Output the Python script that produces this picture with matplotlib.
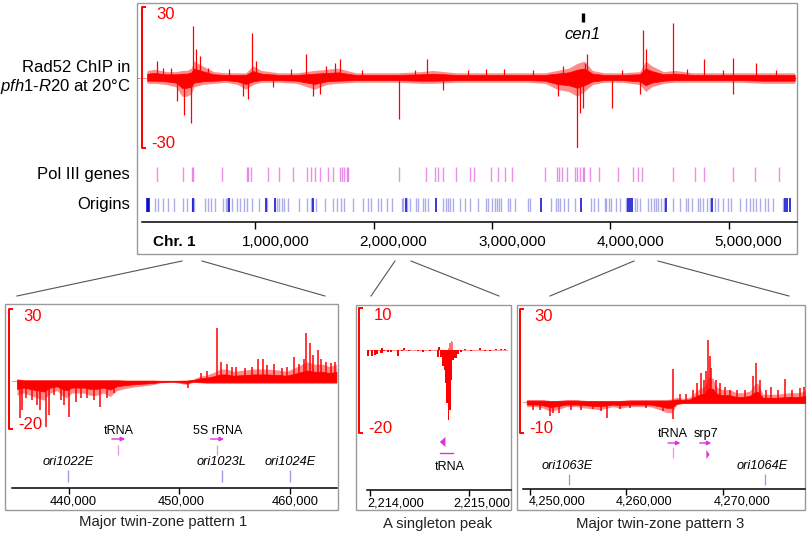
import matplotlib
matplotlib.use('Agg')
import matplotlib.pyplot as plt
from matplotlib.transforms import ScaledTranslation, blended_transform_factory
from matplotlib.patches import Rectangle, Polygon

plt.rcParams['font.family'] = ['Liberation Sans', 'DejaVu Sans']
plt.rcParams['mathtext.fontset'] = 'custom'
plt.rcParams['mathtext.rm'] = 'Liberation Sans'
plt.rcParams['mathtext.it'] = 'Liberation Sans:italic'

# ------------------------------------------------------------------ data
CHR_LEN_MB = 5.579
CHR_TICKS = [1, 2, 3, 4, 5]
CHR_TICK_LABELS = ['1,000,000', '2,000,000', '3,000,000', '4,000,000', '5,000,000']
CEN1_MB = 3.768

# whole chromosome Rad52 ChIP: envelope of the noisy band (Mb, upper, lower)
TOP_ENV_X = [0.085, 0.15, 0.25, 0.33, 0.38, 0.42, 0.46, 0.48, 0.55, 0.65, 0.75, 0.85,
             0.92, 0.98, 1.05, 1.2, 1.35, 1.50, 1.60, 1.70, 1.85, 2.0, 2.2, 2.4, 2.5,
             2.7, 2.9, 3.1, 3.3, 3.45, 3.55, 3.65, 3.72, 3.78, 3.85, 3.95, 4.1, 4.25,
             4.30, 4.35, 4.45, 4.55, 4.7, 4.9, 5.1, 5.3, 5.56]
TOP_ENV_HI = [3, 3.5, 2.5, 2.5, 3, 3, 4, 7, 5, 2.5, 2, 2, 2, 5, 3, 2, 2, 3, 3.5, 4, 2, 2,
              2, 2.5, 3, 2, 2, 2, 2, 2, 3, 4, 6, 7, 3, 2, 2, 2.5, 7, 5, 2.5, 3, 2, 2, 2,
              2, 2]
TOP_ENV_LO = [-2.5, -2.5, -3, -4, -8, -8, -7, -4, -3, -2.5, -2, -3, -5, -3, -2, -2, -2.5,
              -5, -3, -2.5, -2, -2, -2, -2.5, -2.5, -2, -2, -2, -2, -2.5, -5, -6, -8, -6,
              -3, -2, -2, -3, -6, -4, -2.5, -2, -2, -2, -2, -2.5, -2.5]
TOP_SPIKE_X = [0.169, 0.22, 0.29, 0.338, 0.397, 0.457, 0.474, 0.50, 0.532, 0.60, 0.78,
               0.895, 0.938, 0.971, 1.005, 1.15, 1.30, 1.427, 1.486, 1.545, 1.60, 1.672,
               1.715, 1.90, 2.215, 2.35, 2.450, 2.585, 2.80, 2.95, 3.100, 3.35, 3.556,
               3.60, 3.716, 3.742, 3.767, 3.784, 3.801, 4.012, 4.10, 4.248, 4.274, 4.299,
               4.535, 4.65, 4.797, 4.95, 5.042, 5.042, 5.236, 5.40]
TOP_SPIKE_V = [7, 4, 4, -10, -16, -19.5, 22, 12, 9, 4, 3.5, -8, -9, 19, 7, -4, 3.5, 10,
               -8, -7, 5, 6, 8, 3, -17.5, 3, 8, -5.5, 3, 3.5, 3.5, 3, -8, 5, -30, -15,
               -13, 6, 10, -13, 3, -7, 20, 12, 23, 3.5, 8, 3, 8.5, -7, 6, 3]

# Pol III genes and replication origins (Mb)
POL3_MB = [0.169, 0.389, 0.465, 0.473, 0.718, 0.929, 0.938, 0.963, 1.106, 1.199, 1.318,
           1.436, 1.470, 1.503, 1.546, 1.613, 1.655, 1.715, 1.731, 1.748, 1.774, 1.782,
           2.215, 2.441, 2.517, 2.542, 2.584, 2.694, 2.813, 2.846, 2.990, 3.049, 3.108,
           3.167, 3.446, 3.547, 3.564, 3.590, 3.632, 3.699, 3.716, 3.742, 3.767, 3.775,
           3.826, 3.902, 4.062, 4.189, 4.231, 4.265, 4.527, 4.721, 4.797, 5.042, 5.228,
           5.431]
ORI_DARK_MB = [0.085, 0.094, 0.102, 0.476, 0.780, 1.090, 1.166, 1.490, 2.270, 2.526,
               3.419, 3.757, 4.150, 4.165, 4.187, 4.475, 4.863, 5.474, 5.492, 5.516]
ORI_LIGHT_MB = [0.153, 0.181, 0.218, 0.265, 0.313, 0.387, 0.421, 0.463, 0.482, 0.575,
                0.603, 0.623, 0.660, 0.730, 0.753, 0.764, 0.801, 0.843, 0.871, 0.905,
                0.932, 0.970, 1.034, 1.101, 1.181, 1.203, 1.223, 1.242, 1.279, 1.372,
                1.439, 1.468, 1.513, 1.589, 1.654, 1.688, 1.721, 1.749, 1.823, 1.907,
                1.954, 1.975, 2.039, 2.059, 2.110, 2.152, 2.236, 2.250, 2.284, 2.307,
                2.357, 2.377, 2.414, 2.433, 2.461, 2.588, 2.611, 2.630, 2.644, 2.672,
                2.729, 2.771, 2.813, 2.883, 2.948, 2.968, 2.997, 3.024, 3.039, 3.061,
                3.081, 3.137, 3.157, 3.193, 3.306, 3.326, 3.503, 3.546, 3.559, 3.579,
                3.607, 3.644, 3.700, 3.841, 3.861, 3.897, 3.954, 3.968, 3.990, 4.010,
                4.052, 4.080, 4.137, 4.207, 4.226, 4.249, 4.319, 4.348, 4.367, 4.390,
                4.404, 4.432, 4.452, 4.530, 4.587, 4.638, 4.657, 4.694, 4.742, 4.762,
                4.784, 4.818, 4.846, 4.883, 4.910, 4.953, 4.995, 5.024, 5.094, 5.150,
                5.178, 5.206, 5.235, 5.263, 5.305, 5.333, 5.375, 5.459]

# Panel 1: Major twin-zone pattern 1 (bp)
P1_XLIM = (434900, 464200)
P1_YLIM = (-20, 30)
P1_TICKS = [440000, 450000, 460000]
P1_TICK_LABELS = ['440,000', '450,000', '460,000']
P1_ENV_X = [435350, 435950, 436550, 437150, 437750, 438350, 438950, 439400, 439800,
            440300, 440800, 441350, 441950, 442500, 443150, 443750, 444350, 445250,
            445850, 446750, 447650, 448250, 449450, 450650, 451250, 451850, 452450,
            453050, 453650, 454250, 454850, 455750, 456650, 457850, 459050, 459650,
            460850, 461500, 462200, 462950, 463550, 464150]
P1_ENV_HI = [1, 0.5, 0.5, 0.5, 0.5, 0.5, 0.5, 0.5, 0.5, 0.5, 0.5, 0.5, 0.5, 0.5, 0.5, 0.5,
             0.5, 0.3, 0.3, 0.3, 0.3, 0.2, 0.2, 0.3, 0.8, 2, 2.5, 3.5, 5, 5, 4, 4.5, 5, 5,
             4.5, 4, 6.5, 8, 7, 7, 6, 7]
P1_ENV_LO = [-6, -5, -6, -7, -8, -5, -4, -6, -7, -5, -5, -5, -6, -6, -5, -6.5, -4, -3,
             -2.5, -2, -1.5, -0.8, -0.5, -1.5, -0.5, -0.8, -1, -1, -1, -1, -1, -1, -1, -1,
             -1, -1, -1, -1, -1, -1, -1, -1]
P1_SPIKE_X = [435590, 435800, 436200, 436700, 437150, 437450, 437990, 438200, 438700,
              439300, 439610, 440000, 440690, 441100, 441700, 442300, 442790, 443500,
              444100, 450800, 451900, 452500, 453410, 453700, 454250, 454700, 455100,
              455900, 456500, 457100, 457550, 457900, 458510, 459200, 459700, 460310,
              460800, 461200, 461450, 461750, 462050, 462500, 462800, 463200, 463700,
              464000]
P1_SPIKE_V = [-15.5, -12, -7, -8, -10, -12, -19, -14, -6, -8, -10, -15, -8.6, -7, -7, -8,
              -10.7, -7, -5, -2.8, 3.5, 4, 22, 8, 7, 6, 6, 5.5, 6, 9, 9, 6.5, 7, 5.5, 6,
              10, 7, 9, 20, 16, 11, 13, 9, 8, 7.5, 8]
P1_GENES = ['tRNA', '5S rRNA']
P1_GENE_X = [444500, 453410]
P1_GENE_SPAN = [(443900, 445100), (452810, 454010)]
P1_ORI_NAMES = ['ori1022E', 'ori1023L', 'ori1024E']
P1_ORI_X = [439950, 453800, 459950]

# Panel 2: A singleton peak (bp)
P2_XLIM = (2213967, 2215424)
P2_YLIM = (-20, 10)
P2_TICKS = [2214000, 2215000]
P2_TICK_LABELS = ['2,214,000', '2,215,000']
P2_BAR_X = [2213983, 2214017, 2214050, 2214074, 2214117, 2214125, 2214144, 2214178,
            2214211, 2214285, 2214326, 2214346, 2214393, 2214487, 2214537, 2214604,
            2214688, 2214700, 2214715, 2214856, 2214870, 2214889, 2214923, 2214956,
            2215024, 2215107, 2215158, 2215208, 2215275, 2215326, 2215366]
P2_BAR_V = [-1.4, -1.4, -1.2, -1.0, -0.8, 0.3, -0.4, -0.5, -0.5, -1.6, -0.4, 0.4, -0.3,
            -0.4, -0.5, -0.4, -1.8, 0.6, -1.8, -2.0, -2.0, -1.0, -0.6, 0.2, -0.3, 0.3,
            -0.3, -0.2, 0.25, 0.2, 0.1]
P2_PEAK_X = [2214738, 2214752, 2214766, 2214780, 2214794, 2214808, 2214822, 2214836]
P2_PEAK_NEG = [-4, -4.8, -8, -12.8, -16.8, -14.4, -7.2, -2.4]
P2_PEAK_POS = [0, 0, 0, 0, 0.5, 1.5, 2.0, 1.8]
P2_TRNA_SPAN = (2214705, 2214839)

# Panel 3: Major twin-zone pattern 3 (bp)
P3_XLIM = (4249275, 4278500)
P3_YLIM = (-10, 30)
P3_TICKS = [4250000, 4260000, 4270000]
P3_TICK_LABELS = ['4,250,000', '4,260,000', '4,270,000']
P3_ENV_X = [4249655, 4250690, 4251380, 4252070, 4252760, 4253790, 4254830, 4255860,
            4257240, 4258620, 4259310, 4260340, 4261030, 4262410, 4263450, 4264140,
            4264700, 4265170, 4265860, 4266550, 4267070, 4267410, 4268100, 4268450,
            4268970, 4269140, 4269480, 4270000, 4270690, 4271380, 4272070, 4272760,
            4273380, 4273620, 4274140, 4275520, 4276900, 4277930, 4278790]
P3_ENV_HI = [0.8, 0.8, 0.8, 0.5, 0.5, 0.8, 0.8, 0.5, 0.5, 0.5, 0.5, 0.8, 0.8, 0.8, 0.8,
             0.8, 1.0, 1.5, 1.2, 1.5, 3, 4, 5, 8, 7.7, 6, 4.5, 4, 4, 3, 3, 3.5, 6, 6,
             2.5, 2.5, 3, 3, 4]
P3_ENV_LO = [-1.5, -1.5, -2, -3, -2.5, -1.5, -1.5, -2, -2.5, -1.5, -2, -1.5, -1.5, -1.5,
             -2.5, -3.4, -3.5, -1, -0.5, -0.5, -0.5, -0.5, -0.5, -0.5, -0.5, -0.5, -0.5,
             -0.5, -0.5, -0.5, -0.5, -0.5, -0.5, -0.5, -0.5, -0.5, -0.5, -0.5, -0.5]
P3_SPIKE_X = [4250300, 4251000, 4252070, 4252400, 4253030, 4254200, 4255300, 4256550,
              4257400, 4257930, 4259310, 4260340, 4262000, 4263800, 4264830, 4264830,
              4265500, 4266200, 4266900, 4267300, 4267760, 4268000, 4268280, 4268450,
              4268620, 4268790, 4269300, 4269660, 4270200, 4270690, 4271500, 4272300,
              4273100, 4273380, 4273800, 4274480, 4275000, 4275690, 4276380, 4277200,
              4278000, 4278400]
P3_SPIKE_V = [-2.5, -2.5, -4.5, -3.5, -3.5, -2.5, -2.5, -2.4, -3, -5, -2.4, -1.8, -2,
              -3, -5.6, 10.5, 2.5, 2.5, 4, 6, 9.5, 7, 10, 20, 15, 11, 7, 6.2, 5, 4, 4, 4,
              8.4, 12.7, 7, 4, 5, 4, 7.3, 4, 4.5, 5]
P3_GENES = ['tRNA', 'srp7']
P3_GENE_X = [4264830, 4268280]
P3_GENE_SPAN = [(4264310, 4265590), (4267590, 4268790)]
P3_ORI_NAMES = ['ori1063E', 'ori1064E']
P3_ORI_X = [4254070, 4274310]

# ------------------------------------------------------------------ style
RED = '#ff0000'
MAG = '#dd33dd'
MAG_LIGHT = '#ee99ee'
ORI_DARK_C = '#0000cc'
ORI_LIGHT_C = '#7777dd'
BOX_C = '#9a9a9a'
LINE_C = '#555555'
CORE = 0.55  # share of the band drawn fully opaque

W, H = 810, 533
fig = plt.figure(figsize=(W / 100, H / 100), dpi=100)


def px_axes(x0, y0, x1, y1):
    a = fig.add_axes([x0 / W, 1 - y1 / H, (x1 - x0) / W, (y1 - y0) / H])
    a.set_facecolor('none')
    return a


bg = fig.add_axes([0, 0, 1, 1])
bg.set_xlim(0, W)
bg.set_ylim(H, 0)
bg.axis('off')


def draw_signal(ax, ex, hi, lo, sx, sv, lw=1.0):
    ax.axhline(0, color=RED, lw=0.6, alpha=0.5)
    ax.fill_between(ex, lo, hi, color=RED, lw=0, alpha=0.45)
    ax.fill_between(ex, [v * CORE for v in lo], [v * CORE for v in hi],
                    color=RED, lw=0.5, edgecolor=RED)
    ax.vlines(sx, 0, sv, color=RED, lw=lw)


def scale_bar(ax, ext, x_px, top, bot, lab_right_px, top_lab, bot_lab):
    x0, x1 = ext[0], ext[2]
    f = lambda p: (p - x0) / (x1 - x0)
    tr = ax.get_yaxis_transform()
    ax.plot([f(x_px + 4), f(x_px), f(x_px), f(x_px + 4)], [top, top, bot, bot],
            transform=tr, color=RED, lw=1.4, clip_on=False, solid_capstyle='butt')
    ax.text(f(lab_right_px), top, top_lab, transform=tr, ha='right', va='top',
            color=RED, fontsize=12, clip_on=False)
    ax.text(f(lab_right_px), bot, bot_lab, transform=tr, ha='right', va='baseline',
            color=RED, fontsize=12, clip_on=False)


def x_axis(ax, ticks, labels, offsets, label_y, fs, tick_len, xstart=None):
    for s in ['left', 'right', 'top']:
        ax.spines[s].set_visible(False)
    ax.spines['bottom'].set_linewidth(1.1)
    if xstart is not None:
        ax.spines['bottom'].set_bounds(xstart, ax.get_xlim()[1])
    ax.set_yticks([])
    ax.set_xticks(ticks)
    ax.tick_params(axis='x', direction='out', length=tick_len, width=1.0,
                   labelbottom=False, color='black')
    base = blended_transform_factory(ax.transData, fig.transFigure)
    for t, l, o in zip(ticks, labels, offsets):
        ax.text(t, 1 - label_y / H, l,
                transform=base + ScaledTranslation(o / 100, 0, fig.dpi_scale_trans),
                ha='center', va='center', fontsize=fs, clip_on=False)


# ------------------------------------------------------------------ top panel
bg.add_patch(Rectangle((137, 3), 660, 251, fill=False, ec=BOX_C, lw=1))

ext = (137, 7, 797, 148)
ax = px_axes(*ext)
ax.set_xlim(0, CHR_LEN_MB)
ax.set_ylim(-30, 30)
ax.axis('off')
draw_signal(ax, TOP_ENV_X, TOP_ENV_HI, TOP_ENV_LO, TOP_SPIKE_X, TOP_SPIKE_V, lw=0.9)
scale_bar(ax, ext, 142, 30, -30, 175, '30', '-30')
ax.vlines([CEN1_MB], 23.6, 27.4, color='black', lw=2.4)
ax.text(CEN1_MB, 18.5, 'cen1', style='italic', fontsize=12, ha='center', va='center')

axp = px_axes(137, 167, 797, 182)
axp.set_xlim(0, CHR_LEN_MB)
axp.set_ylim(0, 1)
axp.axis('off')
axp.vlines(POL3_MB, 0, 1, color=MAG, lw=1.0, alpha=0.55)

axo = px_axes(137, 198, 797, 212)
axo.set_xlim(0, CHR_LEN_MB)
axo.set_ylim(0, 1)
axo.axis('off')
axo.vlines(ORI_LIGHT_MB, 0, 1, color=ORI_LIGHT_C, lw=1.0, alpha=0.6)
axo.vlines(ORI_DARK_MB, 0, 1, color=ORI_DARK_C, lw=1.1)

axx = px_axes(137, 212, 797, 222)
axx.set_xlim(0, CHR_LEN_MB)
x_axis(axx, CHR_TICKS, CHR_TICK_LABELS, [20] * 5, 242, 11, 5.3, xstart=0.042)
bg.text(174, 242, 'Chr. 1', fontweight='bold', fontsize=11, ha='center', va='center')

bg.text(130, 67, 'Rad52 ChIP in', fontsize=12, ha='right', va='center')
bg.text(130, 86, r'$\it{pfh1}$-$\it{R20}$ at 20°C', fontsize=12, ha='right', va='center')
bg.text(130, 175, 'Pol III genes', fontsize=12, ha='right', va='center')
bg.text(130, 205, 'Origins', fontsize=12, ha='right', va='center')

# connector lines
for (xa, xb) in [((182, 261), (17, 296)), ((202, 261), (325, 296)),
                 ((395, 261), (371, 296)), ((411, 261), (499, 296)),
                 ((634, 261), (550, 296)), ((658, 261), (789, 296))]:
    bg.plot([xa[0], xb[0]], [xa[1], xb[1]], color=LINE_C, lw=0.8)


def arrow(ax, x0, x1, y, color=MAG):
    ax.annotate('', xy=(x1, y), xytext=(x0, y),
                arrowprops=dict(arrowstyle='-|>', color=color, lw=1.0,
                                mutation_scale=6, shrinkA=0, shrinkB=0))


# ------------------------------------------------------------------ panel 1
bg.add_patch(Rectangle((5, 304), 333, 205.5, fill=False, ec=BOX_C, lw=1))
ext = (12, 309, 337, 429)
a1 = px_axes(*ext)
a1.set_xlim(*P1_XLIM)
a1.set_ylim(*P1_YLIM)
a1.axis('off')
draw_signal(a1, P1_ENV_X, P1_ENV_HI, P1_ENV_LO, P1_SPIKE_X, P1_SPIKE_V, lw=1.1)
scale_bar(a1, ext, 9, 30, -20, 42, '30', '-20')

n1 = px_axes(12, 429, 337, 488)
n1.set_xlim(*P1_XLIM)
n1.set_ylim(488, 429)
x_axis(n1, P1_TICKS, P1_TICK_LABELS, [5, 2, 5], 501, 9.3, 4)
for name, gx, (s0, s1) in zip(P1_GENES, P1_GENE_X, P1_GENE_SPAN):
    n1.text(gx, 431, name, fontsize=9, ha='center', va='center')
    arrow(n1, s0, s1, 439)
    n1.vlines(gx, 445, 455, color=MAG_LIGHT, lw=1.0)
for name, ox in zip(P1_ORI_NAMES, P1_ORI_X):
    n1.text(ox, 462, name, style='italic', fontsize=9.2, ha='center', va='center')
    n1.vlines(ox, 470, 482, color=ORI_LIGHT_C, lw=1.0, alpha=0.7)
bg.text(163, 522, 'Major twin-zone pattern 1', fontsize=10.7, ha='center', va='center',
        color='#222222')

# ------------------------------------------------------------------ panel 2
bg.add_patch(Rectangle((356, 305), 155, 204.5, fill=False, ec=BOX_C, lw=1))
ext = (366.7, 308, 511, 433)
a2 = px_axes(*ext)
a2.set_xlim(*P2_XLIM)
a2.set_ylim(*P2_YLIM)
a2.axis('off')
a2.axhline(0, color=RED, lw=0.6, alpha=0.5, xmin=0.0, xmax=0.97)
a2.bar(P2_BAR_X, P2_BAR_V, width=22, color=RED, lw=0)
a2.bar(P2_PEAK_X, P2_PEAK_POS, width=14, color=RED, lw=0, alpha=0.55)
a2.bar(P2_PEAK_X, P2_PEAK_NEG, width=15, color=RED, lw=0)
scale_bar(a2, ext, 359, 10, -20, 392, '10', '-20')

n2 = px_axes(366.7, 433, 511, 490)
n2.set_xlim(*P2_XLIM)
n2.set_ylim(490, 433)
x_axis(n2, P2_TICKS, P2_TICK_LABELS, [26, 13], 503, 9.2, 4)
t0, t1 = P2_TRNA_SPAN
n2.add_patch(Polygon([(t0, 442), (t0 + 57, 437), (t0 + 57, 447)], closed=True,
                     color=MAG, lw=0))
n2.plot([t0, t1], [453, 453], color=MAG, lw=1.0)
n2.text((t0 + t1) / 2 + 30, 467, 'tRNA', fontsize=9, ha='center', va='center')
bg.text(438, 524, 'A singleton peak', fontsize=10.7, ha='center', va='center',
        color='#222222')

# ------------------------------------------------------------------ panel 3
bg.add_patch(Rectangle((517, 305), 288, 204.5, fill=False, ec=BOX_C, lw=1))
ext = (523, 309, 805, 433)
a3 = px_axes(*ext)
a3.set_xlim(*P3_XLIM)
a3.set_ylim(*P3_YLIM)
a3.axis('off')
draw_signal(a3, P3_ENV_X, P3_ENV_HI, P3_ENV_LO, P3_SPIKE_X, P3_SPIKE_V, lw=1.1)
scale_bar(a3, ext, 520, 30, -10, 553, '30', '-10')

n3 = px_axes(523, 433, 805, 489)
n3.set_xlim(*P3_XLIM)
n3.set_ylim(489, 433)
x_axis(n3, P3_TICKS, P3_TICK_LABELS, [27, 18, 19], 502, 9.2, 4)
for name, gx, (s0, s1) in zip(P3_GENES, P3_GENE_X, P3_GENE_SPAN):
    n3.text(gx, 434, name, fontsize=9, ha='center', va='center')
    arrow(n3, s0, s1, 443)
n3.vlines(P3_GENE_X[0], 447, 458, color=MAG_LIGHT, lw=1.0)
g = P3_GENE_X[1]
n3.add_patch(Polygon([(g, 450), (g, 459), (g + 340, 454.5)], closed=True, color=MAG, lw=0))
for name, ox in zip(P3_ORI_NAMES, P3_ORI_X):
    n3.text(ox - 250, 466, name, style='italic', fontsize=9.2, ha='center', va='center')
    n3.vlines(ox, 474, 485, color=ORI_LIGHT_C, lw=1.0, alpha=0.7)
bg.text(660, 524, 'Major twin-zone pattern 3', fontsize=10.7, ha='center', va='center',
        color='#222222')

fig.savefig('out.png', dpi=100)
